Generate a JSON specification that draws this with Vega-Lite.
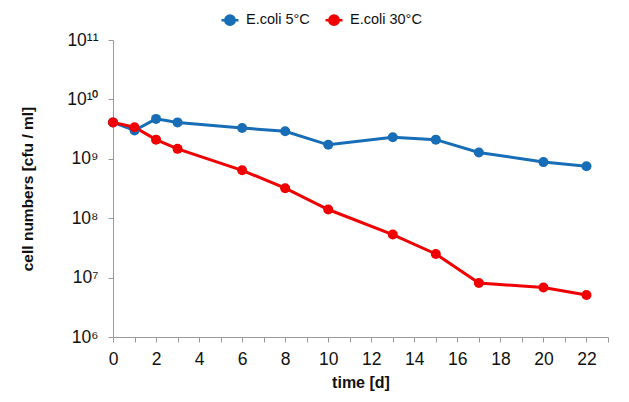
{
  "$schema": "https://vega.github.io/schema/vega-lite/v6.json",
  "width": 495,
  "height": 297,
  "autosize": {"type": "none"},
  "padding": {"left": 113, "top": 40, "right": 21, "bottom": 65},
  "background": "white",
  "config": {"font": "Liberation Sans", "view": {"stroke": null}},
  "data": {
    "values": [
      {"day": 0, "cfu": 4.1e9, "series": "E.coli 5°C"},
      {"day": 1, "cfu": 3.0e9, "series": "E.coli 5°C"},
      {"day": 2, "cfu": 4.7e9, "series": "E.coli 5°C"},
      {"day": 3, "cfu": 4.1e9, "series": "E.coli 5°C"},
      {"day": 6, "cfu": 3.3e9, "series": "E.coli 5°C"},
      {"day": 8, "cfu": 2.9e9, "series": "E.coli 5°C"},
      {"day": 10, "cfu": 1.72e9, "series": "E.coli 5°C"},
      {"day": 13, "cfu": 2.3e9, "series": "E.coli 5°C"},
      {"day": 15, "cfu": 2.1e9, "series": "E.coli 5°C"},
      {"day": 17, "cfu": 1.28e9, "series": "E.coli 5°C"},
      {"day": 20, "cfu": 8.8e8, "series": "E.coli 5°C"},
      {"day": 22, "cfu": 7.5e8, "series": "E.coli 5°C"},
      {"day": 0, "cfu": 4.1e9, "series": "E.coli 30°C"},
      {"day": 1, "cfu": 3.4e9, "series": "E.coli 30°C"},
      {"day": 2, "cfu": 2.1e9, "series": "E.coli 30°C"},
      {"day": 3, "cfu": 1.47e9, "series": "E.coli 30°C"},
      {"day": 6, "cfu": 6.4e8, "series": "E.coli 30°C"},
      {"day": 8, "cfu": 3.2e8, "series": "E.coli 30°C"},
      {"day": 10, "cfu": 1.4e8, "series": "E.coli 30°C"},
      {"day": 13, "cfu": 5.3e7, "series": "E.coli 30°C"},
      {"day": 15, "cfu": 2.5e7, "series": "E.coli 30°C"},
      {"day": 17, "cfu": 8.1e6, "series": "E.coli 30°C"},
      {"day": 20, "cfu": 6.8e6, "series": "E.coli 30°C"},
      {"day": 22, "cfu": 5.1e6, "series": "E.coli 30°C"}
    ]
  },
  "encoding": {
    "x": {
      "field": "day",
      "type": "quantitative",
      "scale": {"domain": [0, 23], "nice": false, "zero": false},
      "axis": {
        "title": "time [d]",
        "values": [0,1,2,3,4,5,6,7,8,9,10,11,12,13,14,15,16,17,18,19,20,21,22,23],
        "labelExpr": "datum.value % 2 == 0 && datum.value <= 22 ? datum.label : ''",
        "labelOverlap": false,
        "labelFlush": false,
        "grid": false,
        "domainColor": "#9a9a9a",
        "tickColor": "#9a9a9a",
        "tickSize": 5,
        "labelPadding": 8,
        "labelFontSize": 17.5,
        "labelColor": "#111111",
        "titleFontSize": 16,
        "titleFontWeight": "bold",
        "titleColor": "#111111",
        "titlePadding": 7
      }
    },
    "y": {
      "field": "cfu",
      "type": "quantitative",
      "scale": {"type": "log", "domain": [1e6, 1e11], "nice": false},
      "axis": {
        "title": "cell numbers [cfu / ml]",
        "values": [1e6, 1e7, 1e8, 1e9, 1e10, 1e11],
        "labelExpr": "datum.value >= 1e11 ? '10¹¹' : datum.value >= 1e10 ? '10¹⁰' : datum.value >= 1e9 ? '10⁹' : datum.value >= 1e8 ? '10⁸' : datum.value >= 1e7 ? '10⁷' : '10⁶'",
        "grid": false,
        "domainColor": "#9a9a9a",
        "tickColor": "#9a9a9a",
        "tickSize": 5,
        "labelPadding": 10,
        "labelFontSize": 17.5,
        "labelColor": "#111111",
        "titleFontSize": 15.5,
        "titleFontWeight": "bold",
        "titleColor": "#111111",
        "titlePadding": 31
      }
    },
    "color": {
      "field": "series",
      "type": "nominal",
      "scale": {"domain": ["E.coli 5°C", "E.coli 30°C"], "range": ["#176eb7", "#f00000"]},
      "legend": {
        "title": null,
        "orient": "none",
        "legendX": 107,
        "legendY": -30,
        "direction": "horizontal",
        "labelFontSize": 14.5,
        "labelColor": "#111111",
        "symbolType": "M-1,0L1,0M-0.55,0A0.55,0.55,0,1,1,0.55,0A0.55,0.55,0,1,1,-0.55,0Z",
        "symbolSize": 289,
        "symbolStrokeWidth": 2.5,
        "symbolOpacity": 1,
        "columnPadding": 10,
        "labelOffset": 6
      }
    }
  },
  "layer": [
    {"mark": {"type": "line", "strokeWidth": 3}},
    {"mark": {"type": "point", "filled": true, "size": 100, "opacity": 1}}
  ]
}
